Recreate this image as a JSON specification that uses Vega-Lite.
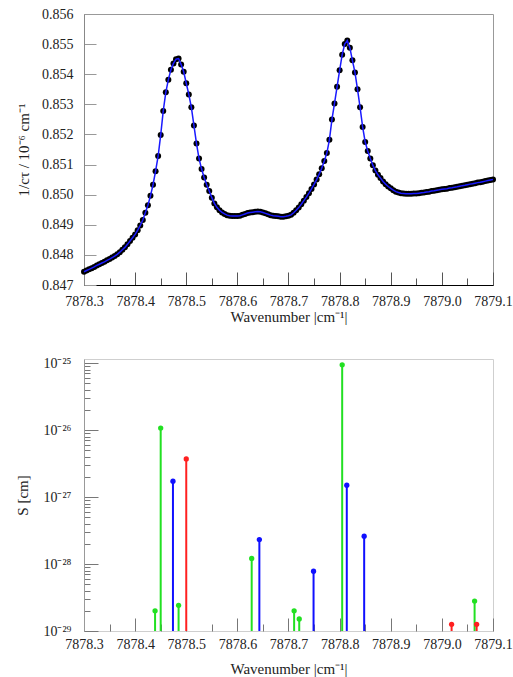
{
  "$schema": "https://vega.github.io/schema/vega-lite/v6.json",
  "padding": {"left": 15, "top": 6, "right": 0, "bottom": 0},
  "spacing": 30,
  "datasets": {
    "curve": [
      {"w":7878.300,"v":0.84744},{"w":7878.305,"v":0.84748},{"w":7878.310,"v":0.84752},{"w":7878.315,"v":0.84756},
      {"w":7878.320,"v":0.84760},{"w":7878.325,"v":0.84765},{"w":7878.330,"v":0.84769},{"w":7878.335,"v":0.84773},
      {"w":7878.340,"v":0.84777},{"w":7878.345,"v":0.84782},{"w":7878.350,"v":0.84786},{"w":7878.355,"v":0.84791},
      {"w":7878.360,"v":0.84796},{"w":7878.365,"v":0.84802},{"w":7878.370,"v":0.84809},{"w":7878.375,"v":0.84817},
      {"w":7878.380,"v":0.84825},{"w":7878.385,"v":0.84835},{"w":7878.390,"v":0.84846},{"w":7878.395,"v":0.84857},
      {"w":7878.400,"v":0.84868},{"w":7878.405,"v":0.84882},{"w":7878.410,"v":0.84898},{"w":7878.415,"v":0.84916},
      {"w":7878.420,"v":0.84940},{"w":7878.425,"v":0.84965},{"w":7878.430,"v":0.84996},{"w":7878.435,"v":0.85033},
      {"w":7878.440,"v":0.85078},{"w":7878.445,"v":0.85128},{"w":7878.450,"v":0.85198},{"w":7878.455,"v":0.85278},
      {"w":7878.460,"v":0.85340},{"w":7878.465,"v":0.85382},{"w":7878.470,"v":0.85415},{"w":7878.475,"v":0.85436},
      {"w":7878.480,"v":0.85450},{"w":7878.485,"v":0.85452},{"w":7878.490,"v":0.85432},{"w":7878.495,"v":0.85408},
      {"w":7878.500,"v":0.85370},{"w":7878.505,"v":0.85333},{"w":7878.510,"v":0.85290},{"w":7878.515,"v":0.85230},
      {"w":7878.520,"v":0.85170},{"w":7878.525,"v":0.85120},{"w":7878.530,"v":0.85085},{"w":7878.535,"v":0.85057},
      {"w":7878.540,"v":0.85033},{"w":7878.545,"v":0.85012},{"w":7878.550,"v":0.84990},{"w":7878.555,"v":0.84971},
      {"w":7878.560,"v":0.84958},{"w":7878.565,"v":0.84948},{"w":7878.570,"v":0.84941},{"w":7878.575,"v":0.84936},
      {"w":7878.580,"v":0.84932},{"w":7878.585,"v":0.84930},{"w":7878.590,"v":0.84929},{"w":7878.595,"v":0.84929},
      {"w":7878.600,"v":0.84929},{"w":7878.605,"v":0.84930},{"w":7878.610,"v":0.84933},{"w":7878.615,"v":0.84936},
      {"w":7878.620,"v":0.84939},{"w":7878.625,"v":0.84941},{"w":7878.630,"v":0.84942},{"w":7878.635,"v":0.84943},
      {"w":7878.640,"v":0.84944},{"w":7878.645,"v":0.84943},{"w":7878.650,"v":0.84941},{"w":7878.655,"v":0.84938},
      {"w":7878.660,"v":0.84935},{"w":7878.665,"v":0.84932},{"w":7878.670,"v":0.84930},{"w":7878.675,"v":0.84929},
      {"w":7878.680,"v":0.84928},{"w":7878.685,"v":0.84927},{"w":7878.690,"v":0.84927},{"w":7878.695,"v":0.84928},
      {"w":7878.700,"v":0.84930},{"w":7878.705,"v":0.84933},{"w":7878.710,"v":0.84940},{"w":7878.715,"v":0.84948},
      {"w":7878.720,"v":0.84957},{"w":7878.725,"v":0.84968},{"w":7878.730,"v":0.84980},{"w":7878.735,"v":0.84992},
      {"w":7878.740,"v":0.85005},{"w":7878.745,"v":0.85019},{"w":7878.750,"v":0.85034},{"w":7878.755,"v":0.85050},
      {"w":7878.760,"v":0.85068},{"w":7878.765,"v":0.85088},{"w":7878.770,"v":0.85112},{"w":7878.775,"v":0.85138},
      {"w":7878.780,"v":0.85182},{"w":7878.785,"v":0.85250},{"w":7878.790,"v":0.85303},{"w":7878.795,"v":0.85358},
      {"w":7878.800,"v":0.85413},{"w":7878.805,"v":0.85465},{"w":7878.810,"v":0.85500},{"w":7878.815,"v":0.85512},
      {"w":7878.820,"v":0.85488},{"w":7878.825,"v":0.85446},{"w":7878.830,"v":0.85406},{"w":7878.835,"v":0.85350},
      {"w":7878.840,"v":0.85290},{"w":7878.845,"v":0.85225},{"w":7878.850,"v":0.85175},{"w":7878.855,"v":0.85145},
      {"w":7878.860,"v":0.85120},{"w":7878.865,"v":0.85098},{"w":7878.870,"v":0.85080},{"w":7878.875,"v":0.85066},
      {"w":7878.880,"v":0.85055},{"w":7878.885,"v":0.85044},{"w":7878.890,"v":0.85035},{"w":7878.895,"v":0.85027},
      {"w":7878.900,"v":0.85021},{"w":7878.905,"v":0.85015},{"w":7878.910,"v":0.85010},{"w":7878.915,"v":0.85007},
      {"w":7878.920,"v":0.85005},{"w":7878.925,"v":0.85004},{"w":7878.930,"v":0.85003},{"w":7878.935,"v":0.85003},
      {"w":7878.940,"v":0.85003},{"w":7878.945,"v":0.85004},{"w":7878.950,"v":0.85004},{"w":7878.955,"v":0.85005},
      {"w":7878.960,"v":0.85006},{"w":7878.965,"v":0.85007},{"w":7878.970,"v":0.85009},{"w":7878.975,"v":0.85010},
      {"w":7878.980,"v":0.85012},{"w":7878.985,"v":0.85013},{"w":7878.990,"v":0.85015},{"w":7878.995,"v":0.85016},
      {"w":7879.000,"v":0.85018},{"w":7879.005,"v":0.85019},{"w":7879.010,"v":0.85020},{"w":7879.015,"v":0.85022},
      {"w":7879.020,"v":0.85023},{"w":7879.025,"v":0.85025},{"w":7879.030,"v":0.85026},{"w":7879.035,"v":0.85028},
      {"w":7879.040,"v":0.85030},{"w":7879.045,"v":0.85031},{"w":7879.050,"v":0.85033},{"w":7879.055,"v":0.85035},
      {"w":7879.060,"v":0.85036},{"w":7879.065,"v":0.85038},{"w":7879.070,"v":0.85040},{"w":7879.075,"v":0.85041},
      {"w":7879.080,"v":0.85043},{"w":7879.085,"v":0.85045},{"w":7879.090,"v":0.85047},{"w":7879.095,"v":0.85049},
      {"w":7879.100,"v":0.85050}
    ],
    "sticks": [
      {"w":7878.439,"S":2.0e-29,"c":"g"},
      {"w":7878.450,"S":1.07e-26,"c":"g"},
      {"w":7878.474,"S":1.72e-27,"c":"b"},
      {"w":7878.485,"S":2.42e-29,"c":"g"},
      {"w":7878.500,"S":3.7e-27,"c":"r"},
      {"w":7878.628,"S":1.21e-28,"c":"g"},
      {"w":7878.643,"S":2.32e-28,"c":"b"},
      {"w":7878.711,"S":2.0e-29,"c":"g"},
      {"w":7878.721,"S":1.51e-29,"c":"g"},
      {"w":7878.749,"S":7.8e-29,"c":"b"},
      {"w":7878.805,"S":9.4e-26,"c":"g"},
      {"w":7878.814,"S":1.5e-27,"c":"b"},
      {"w":7878.848,"S":2.6e-28,"c":"b"},
      {"w":7879.019,"S":1.26e-29,"c":"r"},
      {"w":7879.064,"S":2.8e-29,"c":"g"},
      {"w":7879.068,"S":1.26e-29,"c":"r"}
    ]
  },
  "config": {
    "font": "Liberation Serif",
    "view": {"stroke": "#999999"},
    "axis": {
      "grid": false,
      "labelFont": "Liberation Serif",
      "labelFontSize": 14,
      "labelColor": "#222222",
      "titleFont": "Liberation Serif",
      "titleFontSize": 15,
      "titleFontWeight": "normal",
      "titleColor": "#222222"
    }
  },
  "vconcat": [
    {
      "width": 409,
      "height": 271,
      "data": {"name": "curve"},
      "encoding": {
        "x": {
          "field": "w", "type": "quantitative",
          "scale": {"domain": [7878.3, 7879.1], "nice": false, "zero": false},
          "axis": {
            "title": "Wavenumber |cm⁻¹|",
            "values": [7878.3,7878.35,7878.4,7878.45,7878.5,7878.55,7878.6,7878.65,7878.7,7878.75,7878.8,7878.85,7878.9,7878.95,7879.0,7879.05,7879.1],
            "labelExpr": "abs(datum.value*10 - round(datum.value*10)) < 0.01 ? format(datum.value, '.1f') : ''",
            "labelFlush": false,
            "labelOverlap": false,
            "tickSize": {"condition": {"test": "abs(datum.value*10 - round(datum.value*10)) < 0.01", "value": -13}, "value": -7},
            "tickColor": "#555555",
            "domainColor": "#000000",
            "labelPadding": 22,
            "titlePadding": -5
          }
        },
        "y": {
          "field": "v", "type": "quantitative",
          "scale": {"domain": [0.847, 0.856], "nice": false, "zero": false},
          "axis": {
            "title": "1/cτ / 10⁻⁶ cm⁻¹",
            "values": [0.847,0.848,0.849,0.85,0.851,0.852,0.853,0.854,0.855,0.856],
            "format": ".3f",
            "tickSize": -12,
            "tickColor": "#999999",
            "domainColor": "#888888",
            "labelPadding": 23,
            "titlePadding": 10
          }
        }
      },
      "layer": [
        {"mark": {"type": "point", "filled": true, "color": "#000000", "size": 36, "opacity": 1}},
        {"mark": {"type": "line", "color": "#1a1aff", "strokeWidth": 1.5}}
      ]
    },
    {
      "width": 409,
      "height": 272,
      "view": {"stroke": "#cfcfcf"},
      "data": {"name": "sticks"},
      "encoding": {
        "x": {
          "field": "w", "type": "quantitative",
          "scale": {"domain": [7878.3, 7879.1], "nice": false, "zero": false},
          "axis": {
            "title": "Wavenumber |cm⁻¹|",
            "values": [7878.3,7878.35,7878.4,7878.45,7878.5,7878.55,7878.6,7878.65,7878.7,7878.75,7878.8,7878.85,7878.9,7878.95,7879.0,7879.05,7879.1],
            "labelExpr": "abs(datum.value*10 - round(datum.value*10)) < 0.01 ? format(datum.value, '.1f') : ''",
            "labelFlush": false,
            "labelOverlap": false,
            "tickSize": {"condition": {"test": "abs(datum.value*10 - round(datum.value*10)) < 0.01", "value": -13}, "value": -7},
            "tickColor": "#777777",
            "domain": false,
            "labelPadding": 19,
            "titlePadding": 4
          }
        },
        "y": {
          "field": "S", "type": "quantitative",
          "scale": {"type": "log", "domain": [1e-29, 1.15e-25], "nice": false},
          "axis": {
            "title": "S [cm]",
            "values": [1e-29,2e-29,3e-29,4e-29,5e-29,6e-29,7e-29,8e-29,9e-29,1e-28,2e-28,3e-28,4e-28,5e-28,6e-28,7e-28,8e-28,9e-28,1e-27,2e-27,3e-27,4e-27,5e-27,6e-27,7e-27,8e-27,9e-27,1e-26,2e-26,3e-26,4e-26,5e-26,6e-26,7e-26,8e-26,9e-26,1e-25],
            "labelExpr": "abs(log(datum.value)/LN10 - round(log(datum.value)/LN10)) < 0.001 ? (round(log(datum.value)/LN10) == -25 ? '10⁻²⁵' : round(log(datum.value)/LN10) == -26 ? '10⁻²⁶' : round(log(datum.value)/LN10) == -27 ? '10⁻²⁷' : round(log(datum.value)/LN10) == -28 ? '10⁻²⁸' : '10⁻²⁹') : ''",
            "labelOverlap": false,
            "tickSize": {"condition": {"test": "abs(log(datum.value)/LN10 - round(log(datum.value)/LN10)) < 0.001", "value": -14}, "value": -6},
            "tickColor": "#777777",
            "domainColor": "#999999",
            "labelPadding": 27,
            "titlePadding": 12
          }
        },
        "color": {
          "field": "c", "type": "nominal",
          "scale": {"domain": ["g", "b", "r"], "range": ["#22e022", "#1010ff", "#ff2020"]},
          "legend": null
        }
      },
      "layer": [
        {"mark": {"type": "rule", "strokeWidth": 2}, "encoding": {"y2": {"datum": 1e-29}}},
        {"mark": {"type": "circle", "size": 28, "opacity": 1}}
      ]
    }
  ]
}
